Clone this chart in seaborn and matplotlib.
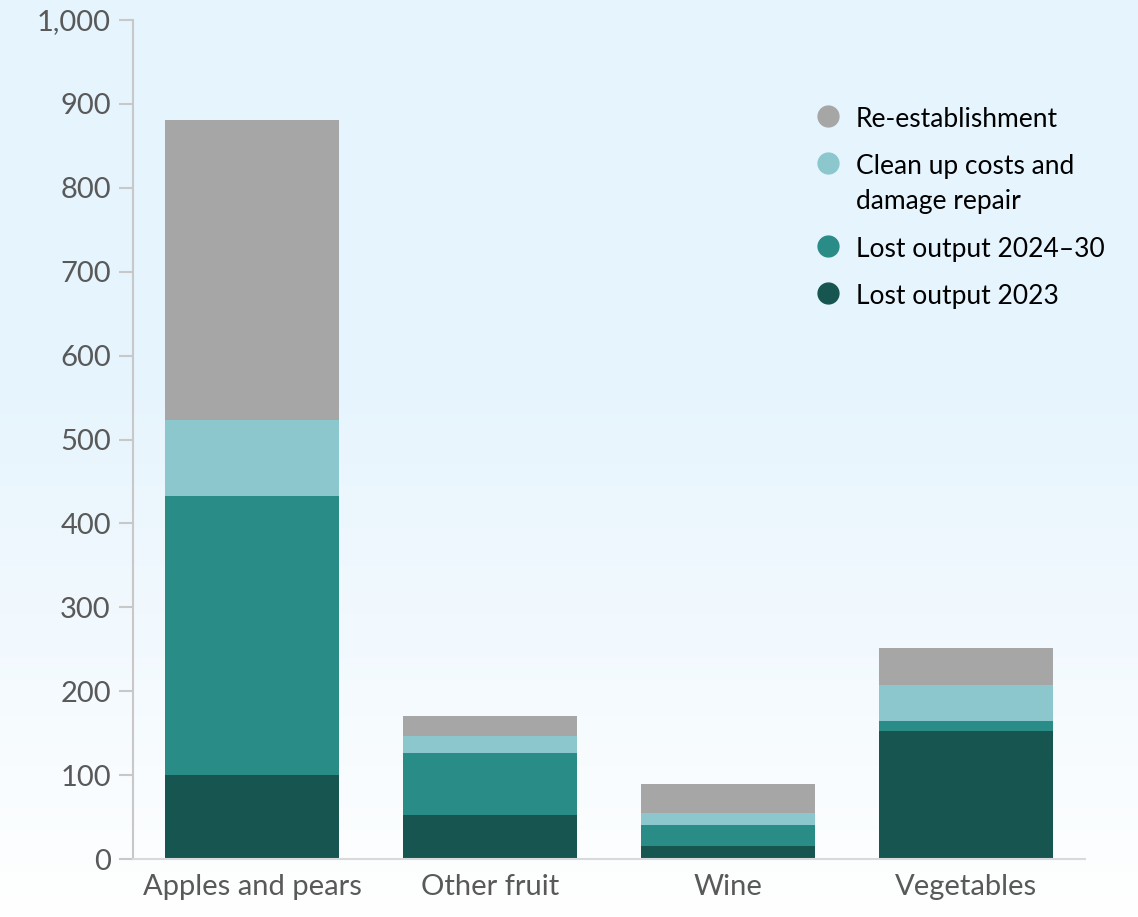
import numpy as np
import pandas as pd
import matplotlib.pyplot as plt
import seaborn as sns
from matplotlib.lines import Line2D

categories = ['Apples and pears', 'Other fruit', 'Wine', 'Vegetables']
lost_2023 = [100, 53, 16, 153]
lost_2024_30 = [333, 73, 25, 12]
clean_up = [90, 21, 14, 43]
re_establishment = [358, 24, 34, 44]

series_names = ['Lost output 2023', 'Lost output 2024\u201330',
                'Clean up costs and\ndamage repair', 'Re-establishment']
colours = ['#175550', '#2a8c86', '#8bc7cd', '#a6a6a6']

sns.set_theme(style='white')
plt.rcParams['font.family'] = ['Lato', 'DejaVu Sans']

df = pd.DataFrame({'category': categories,
                   series_names[0]: lost_2023,
                   series_names[1]: lost_2024_30,
                   series_names[2]: clean_up,
                   series_names[3]: re_establishment})
cum = df[series_names].cumsum(axis=1)

fig = plt.figure(figsize=(11.38, 9.17), dpi=100)

# background gradient, light blue at top fading to white
bg = fig.add_axes([0, 0, 1, 1], zorder=-10)
t = np.clip(np.linspace(1, 0, 400) / 0.6, 0, 1)[:, None]
top = np.array([0.90, 0.957, 0.993])
grad = np.ones((400, 1, 3)) * (1 - t[..., None]) + top * t[..., None]
grad = grad[::-1]
bg.imshow(grad, aspect='auto', extent=[0, 1, 0, 1], origin='lower')
bg.axis('off')

ax = fig.add_axes([0.1169, 0.0632, 0.9534 - 0.1169, 0.9782 - 0.0632])
ax.set_facecolor('none')

# draw cumulative totals from the top layer down so lower layers sit on top
for name, colour in reversed(list(zip(series_names, colours))):
    sns.barplot(x=df['category'], y=cum[name], color=colour, width=0.73,
                saturation=1, ax=ax, edgecolor=colour, linewidth=0)

ax.set_ylim(0, 1000)
ax.set_xlim(-0.5, 3.5)
ax.set_yticks(range(0, 1001, 100))
ax.set_yticklabels([f'{v:,}' for v in range(0, 1001, 100)])
ax.set_xlabel('')
ax.set_ylabel('')

for s in ['top', 'right']:
    ax.spines[s].set_visible(False)
ax.spines['left'].set_color('#c8c8c8')
ax.spines['left'].set_linewidth(1.5)
ax.spines['bottom'].set_color('#d9d9d9')
ax.spines['bottom'].set_linewidth(1.5)

ax.tick_params(axis='y', length=10, width=1.5, color='#c8c8c8', left=True,
               labelsize=21, labelcolor='#595959', pad=6)
ax.tick_params(axis='x', length=0, labelsize=21, labelcolor='#595959', pad=11)

handles = [Line2D([], [], marker='o', linestyle='', markersize=15,
                  markerfacecolor=c, markeredgecolor=c)
           for c in reversed(colours)]
leg = ax.legend(handles, list(reversed(series_names)), loc='upper left',
                bbox_to_anchor=(0.69, 0.925), frameon=False, fontsize=19,
                handletextpad=0.5, labelspacing=0.85, handlelength=1.1)
for t_ in leg.get_texts():
    t_.set_color('black')
    t_.set_linespacing(1.5)
# keep the marker level with the first line of a two-line label
try:
    for col in leg._legend_handle_box.get_children():
        for item in col.get_children():
            item.align = 'top'
except AttributeError:
    pass

fig.savefig('out.png', dpi=100)
